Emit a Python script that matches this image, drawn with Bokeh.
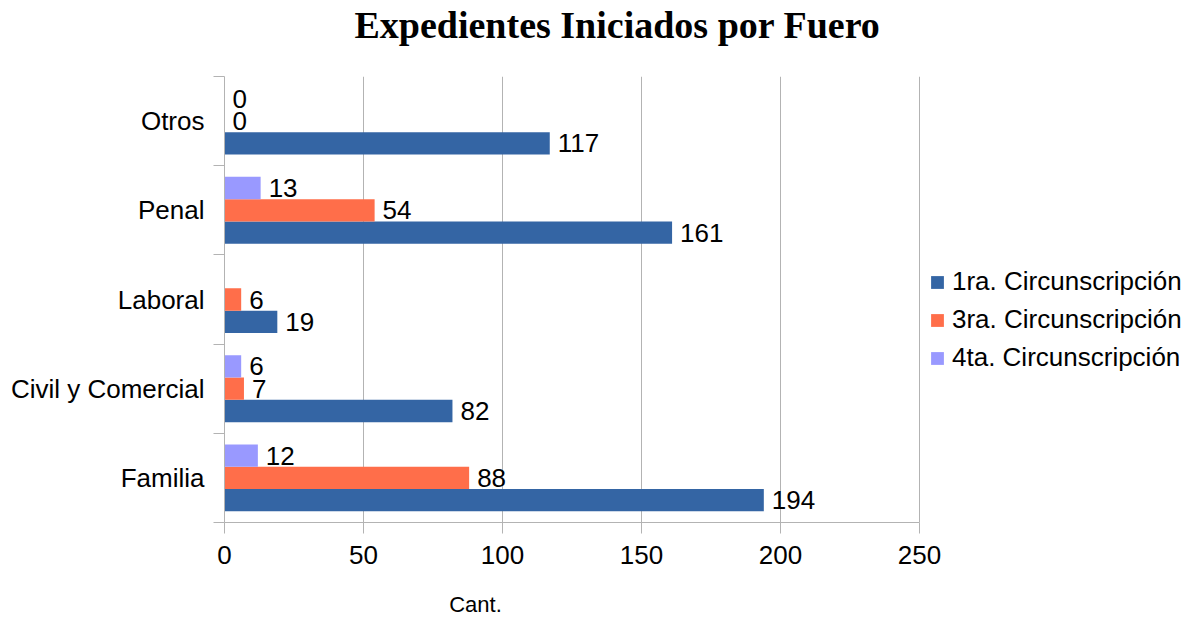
import numpy as np
from bokeh.plotting import figure
from bokeh.layouts import column
from bokeh.models import (ColumnDataSource, Range1d, FixedTicker, Legend, LegendItem, Label)
from bokeh.core.properties import value
from bokeh.embed import file_html
from bokeh.resources import INLINE

# ---- data ----
categories = ["Familia", "Civil y Comercial", "Laboral", "Penal", "Otros"]
series_names = ["1ra. Circunscripción", "3ra. Circunscripción", "4ta. Circunscripción"]
circ_1ra = [194, 82, 19, 161, 117]
circ_3ra = [88, 7, 6, 54, 0]
circ_4ta = [12, 6, None, 13, 0]
x_ticks = [0, 50, 100, 150, 200, 250]
title_text = "Expedientes Iniciados por Fuero"
x_label = "Cant."

colors = ["#3465a4", "#ff6e4a", "#9999ff"]
FONT = "Liberation Sans"
GRAY = "#b3b3b3"
FS = "26px"

# layout (pixels)
W = 1200
TITLE_H, LABEL_H = 76, 38
MAIN_H = 618 - TITLE_H - LABEL_H
LEFT = 224
FRAME_H = 446
AXIS_PX = 695                      # pixel length of the 0..250 axis
x_max = x_ticks[-1]
px = x_max / AXIS_PX               # data units per pixel
x_end = (W - LEFT) * px            # frame extends right to hold the legend


def text_strip(height, text, x, y, font, size, style):
    # x, y: text centre in pixels, relative to the (column-aligned) frame
    f = figure(width=W, height=height, x_range=Range1d(0, 1), y_range=Range1d(0, 1),
               min_border=0, min_border_left=0, min_border_right=0,
               min_border_top=0, min_border_bottom=0,
               x_axis_type=None, y_axis_type=None,
               output_backend="svg", toolbar_location=None)
    f.outline_line_color = None
    f.grid.grid_line_color = None
    f.add_layout(Label(x=x, y=y, x_units="screen", y_units="screen", text=text,
                       text_align="center", text_baseline="middle",
                       text_font=font, text_font_style=style,
                       text_font_size=size, text_color="black"))
    return f


title_fig = text_strip(TITLE_H, title_text, 617 - LEFT, 52,
                       "Liberation Serif", "38px", "bold")

p = figure(width=W, height=MAIN_H,
           min_border_left=LEFT, min_border_right=0,
           min_border_top=0, min_border_bottom=MAIN_H - FRAME_H,
           x_range=Range1d(0, x_end), y_range=Range1d(0, len(categories)),
           output_backend="svg", toolbar_location=None)
p.outline_line_color = None
p.background_fill_color = "white"
p.border_fill_color = "white"

centers = np.arange(len(categories)) + 0.5
bar_h = 0.25
offsets = [-bar_h, 0.0, bar_h]
all_series = [circ_1ra, circ_3ra, circ_4ta]

items = []
for name, vals, off, col in zip(series_names, all_series, offsets, colors):
    v = np.array([np.nan if x is None else x for x in vals], dtype=float)
    ys = centers + off
    src = ColumnDataSource(dict(y=ys, right=v))
    r = p.hbar(y="y", right="right", left=0, height=bar_h, source=src,
               fill_color=col, line_color=None)
    items.append(LegendItem(label=name, renderers=[r]))
    mask = ~np.isnan(v)
    lsrc = ColumnDataSource(dict(x=v[mask], y=ys[mask],
                                 t=[str(int(a)) for a in v[mask]]))
    p.text(x="x", y="y", text="t", source=lsrc, x_offset=8,
           text_baseline="middle", text_align="left",
           text_font=value(FONT), text_font_size=FS, text_color="black")

# x axis
p.xaxis.ticker = FixedTicker(ticks=x_ticks)
p.xaxis.bounds = (0, x_max)
p.xaxis.axis_line_color = GRAY
p.xaxis.major_tick_line_color = GRAY
p.xaxis.major_tick_out = 11
p.xaxis.major_tick_in = 0
p.xaxis.minor_tick_line_color = None
p.xaxis.major_label_text_font = FONT
p.xaxis.major_label_text_font_size = FS
p.xaxis.major_label_text_color = "black"
p.xaxis.major_label_standoff = 12

# y axis: labels at centres, tick marks at boundaries
p.yaxis.ticker = FixedTicker(ticks=list(centers),
                             minor_ticks=list(np.arange(len(categories) + 1)))
p.yaxis.major_label_overrides = {float(c): n for c, n in zip(centers, categories)}
p.yaxis.axis_line_color = GRAY
p.yaxis.major_tick_line_color = None
p.yaxis.major_tick_out = 0
p.yaxis.major_tick_in = 0
p.yaxis.minor_tick_line_color = GRAY
p.yaxis.minor_tick_out = 11
p.yaxis.minor_tick_in = 0
p.yaxis.major_label_text_font = FONT
p.yaxis.major_label_text_font_size = FS
p.yaxis.major_label_text_color = "black"
p.yaxis.major_label_standoff = 9

p.xgrid.grid_line_color = GRAY
p.xgrid.ticker = FixedTicker(ticks=x_ticks)
p.ygrid.grid_line_color = None

legend = Legend(items=items, location=(705, 149), orientation="vertical",
                label_text_font=FONT, label_text_font_size=FS,
                label_text_color="black",
                glyph_width=16, glyph_height=16, label_standoff=7,
                label_height=31, spacing=7, padding=0, margin=0,
                border_line_color=None, background_fill_alpha=0)
p.add_layout(legend, "center")

label_fig = text_strip(LABEL_H, x_label, 475 - LEFT, 14, FONT, "22px", "normal")

layout = column(title_fig, p, label_fig, spacing=0)
open("out.html", "w").write(file_html(layout, INLINE))
